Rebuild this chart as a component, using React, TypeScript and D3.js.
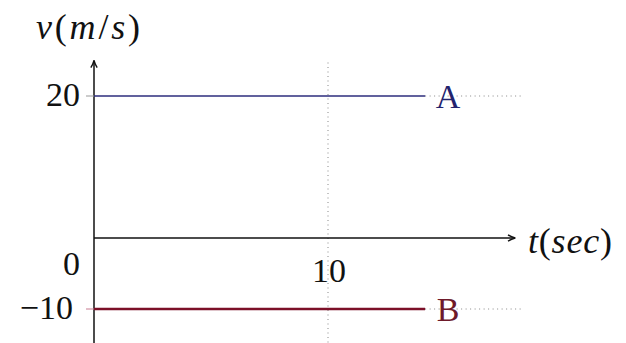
import React from "react";
import * as d3 from "d3";

// Constant-velocity lines for two bodies
const seriesNames = ["A", "B"];
const seriesVelocity = [20, -10];
const seriesEndTime = [14.15, 14.15];
const seriesColors = ["#2c2c7c", "#7c1028"];
const labelColors = ["#23236e", "#6e1a2a"];
const yTicks = [20, -10];
const xTicks = [10];

const W = 626;
const H = 343;

export default function App() {
  const x = d3.scaleLinear().domain([0, 10]).range([94, 328]);
  const y = d3.scaleLinear().domain([0, 20]).range([238, 96]);
  const tMax = 18;
  const vMax = 25;
  const vMin = -15;
  const txt = { fontFamily: '"Liberation Serif"', fontSize: "34px" } as React.CSSProperties;
  const title = { fontFamily: '"Liberation Serif"', fontSize: "36px" } as React.CSSProperties;

  return (
    <svg
      width={W}
      height={H}
      style={{ position: "absolute", left: 0, top: 0, background: "#fff" }}
    >
      <defs>
        <marker id="arr" viewBox="0 0 10 10" refX="9" refY="5" markerWidth="9" markerHeight="9" markerUnits="userSpaceOnUse" orient="auto">
          <path d="M1,1.5 Q5,4 9,5 Q5,6 1,8.5" fill="none" stroke="#111" strokeWidth="1.6" />
        </marker>
      </defs>

      {/* dotted guides */}
      {xTicks.map((t) => (
        <line key={"gx" + t} x1={x(t)} x2={x(t)} y1={y(vMax) + 2} y2={y(vMin)} stroke="#888" strokeWidth={1} strokeDasharray="1 3.5" />
      ))}
      {seriesVelocity.map((v, i) => (
        <line key={"gy" + i} x1={x(seriesEndTime[i])} x2={x(tMax) + 6} y1={y(v)} y2={y(v)} stroke="#888" strokeWidth={1} strokeDasharray="1 3.5" />
      ))}

      {/* axes */}
      <line x1={x(0)} x2={x(0)} y1={y(vMin)} y2={y(vMax)} stroke="#111" strokeWidth={1.5} markerEnd="url(#arr)" />
      <line x1={x(0)} x2={x(tMax)} y1={y(0)} y2={y(0)} stroke="#111" strokeWidth={1.5} markerEnd="url(#arr)" />

      {/* y ticks */}
      {yTicks.map((v, i) => (
        <line key={"yt" + v} x1={x(0) - 8} x2={x(0)} y1={y(v)} y2={y(v)} stroke={i === 0 ? "#999" : "#c77a90"} strokeWidth={1} />
      ))}

      {/* series lines */}
      {seriesVelocity.map((v, i) => (
        <line key={"s" + i} x1={x(0)} x2={x(seriesEndTime[i])} y1={y(v)} y2={y(v)} stroke={seriesColors[i]} strokeWidth={i === 0 ? 1.6 : 2.4} />
      ))}

      {/* series labels */}
      {seriesNames.map((n, i) => (
        <text key={"l" + n} x={x(seriesEndTime[i]) + 23} y={y(seriesVelocity[i]) + 12} style={txt} textAnchor="middle" fill={labelColors[i]}>
          {n}
        </text>
      ))}

      {/* tick labels */}
      {yTicks.map((v) => (
        <text key={"yl" + v} x={v === 20 ? 80 : 73} y={y(v) + 10} style={txt} textAnchor="end" fill="#111">
          {v < 0 ? "\u2212" + Math.abs(v) : v}
        </text>
      ))}
      <text x={80} y={275} style={txt} textAnchor="end" fill="#111">0</text>
      {xTicks.map((t) => (
        <text key={"xl" + t} x={x(t) + 1} y={282} style={txt} textAnchor="middle" fill="#111">
          {t}
        </text>
      ))}

      {/* axis titles */}
      <text x={36} y={39} style={title} fill="#111" textLength={104} lengthAdjust="spacing">
        <tspan fontStyle="italic">v</tspan>
        <tspan>(</tspan>
        <tspan fontStyle="italic">m</tspan>
        <tspan>/</tspan>
        <tspan fontStyle="italic">s</tspan>
        <tspan>)</tspan>
      </text>
      <text x={528} y={253} style={title} fill="#111" textLength={84} lengthAdjust="spacing">
        <tspan fontStyle="italic">t</tspan>
        <tspan>(</tspan>
        <tspan fontStyle="italic">sec</tspan>
        <tspan>)</tspan>
      </text>
    </svg>
  );
}
